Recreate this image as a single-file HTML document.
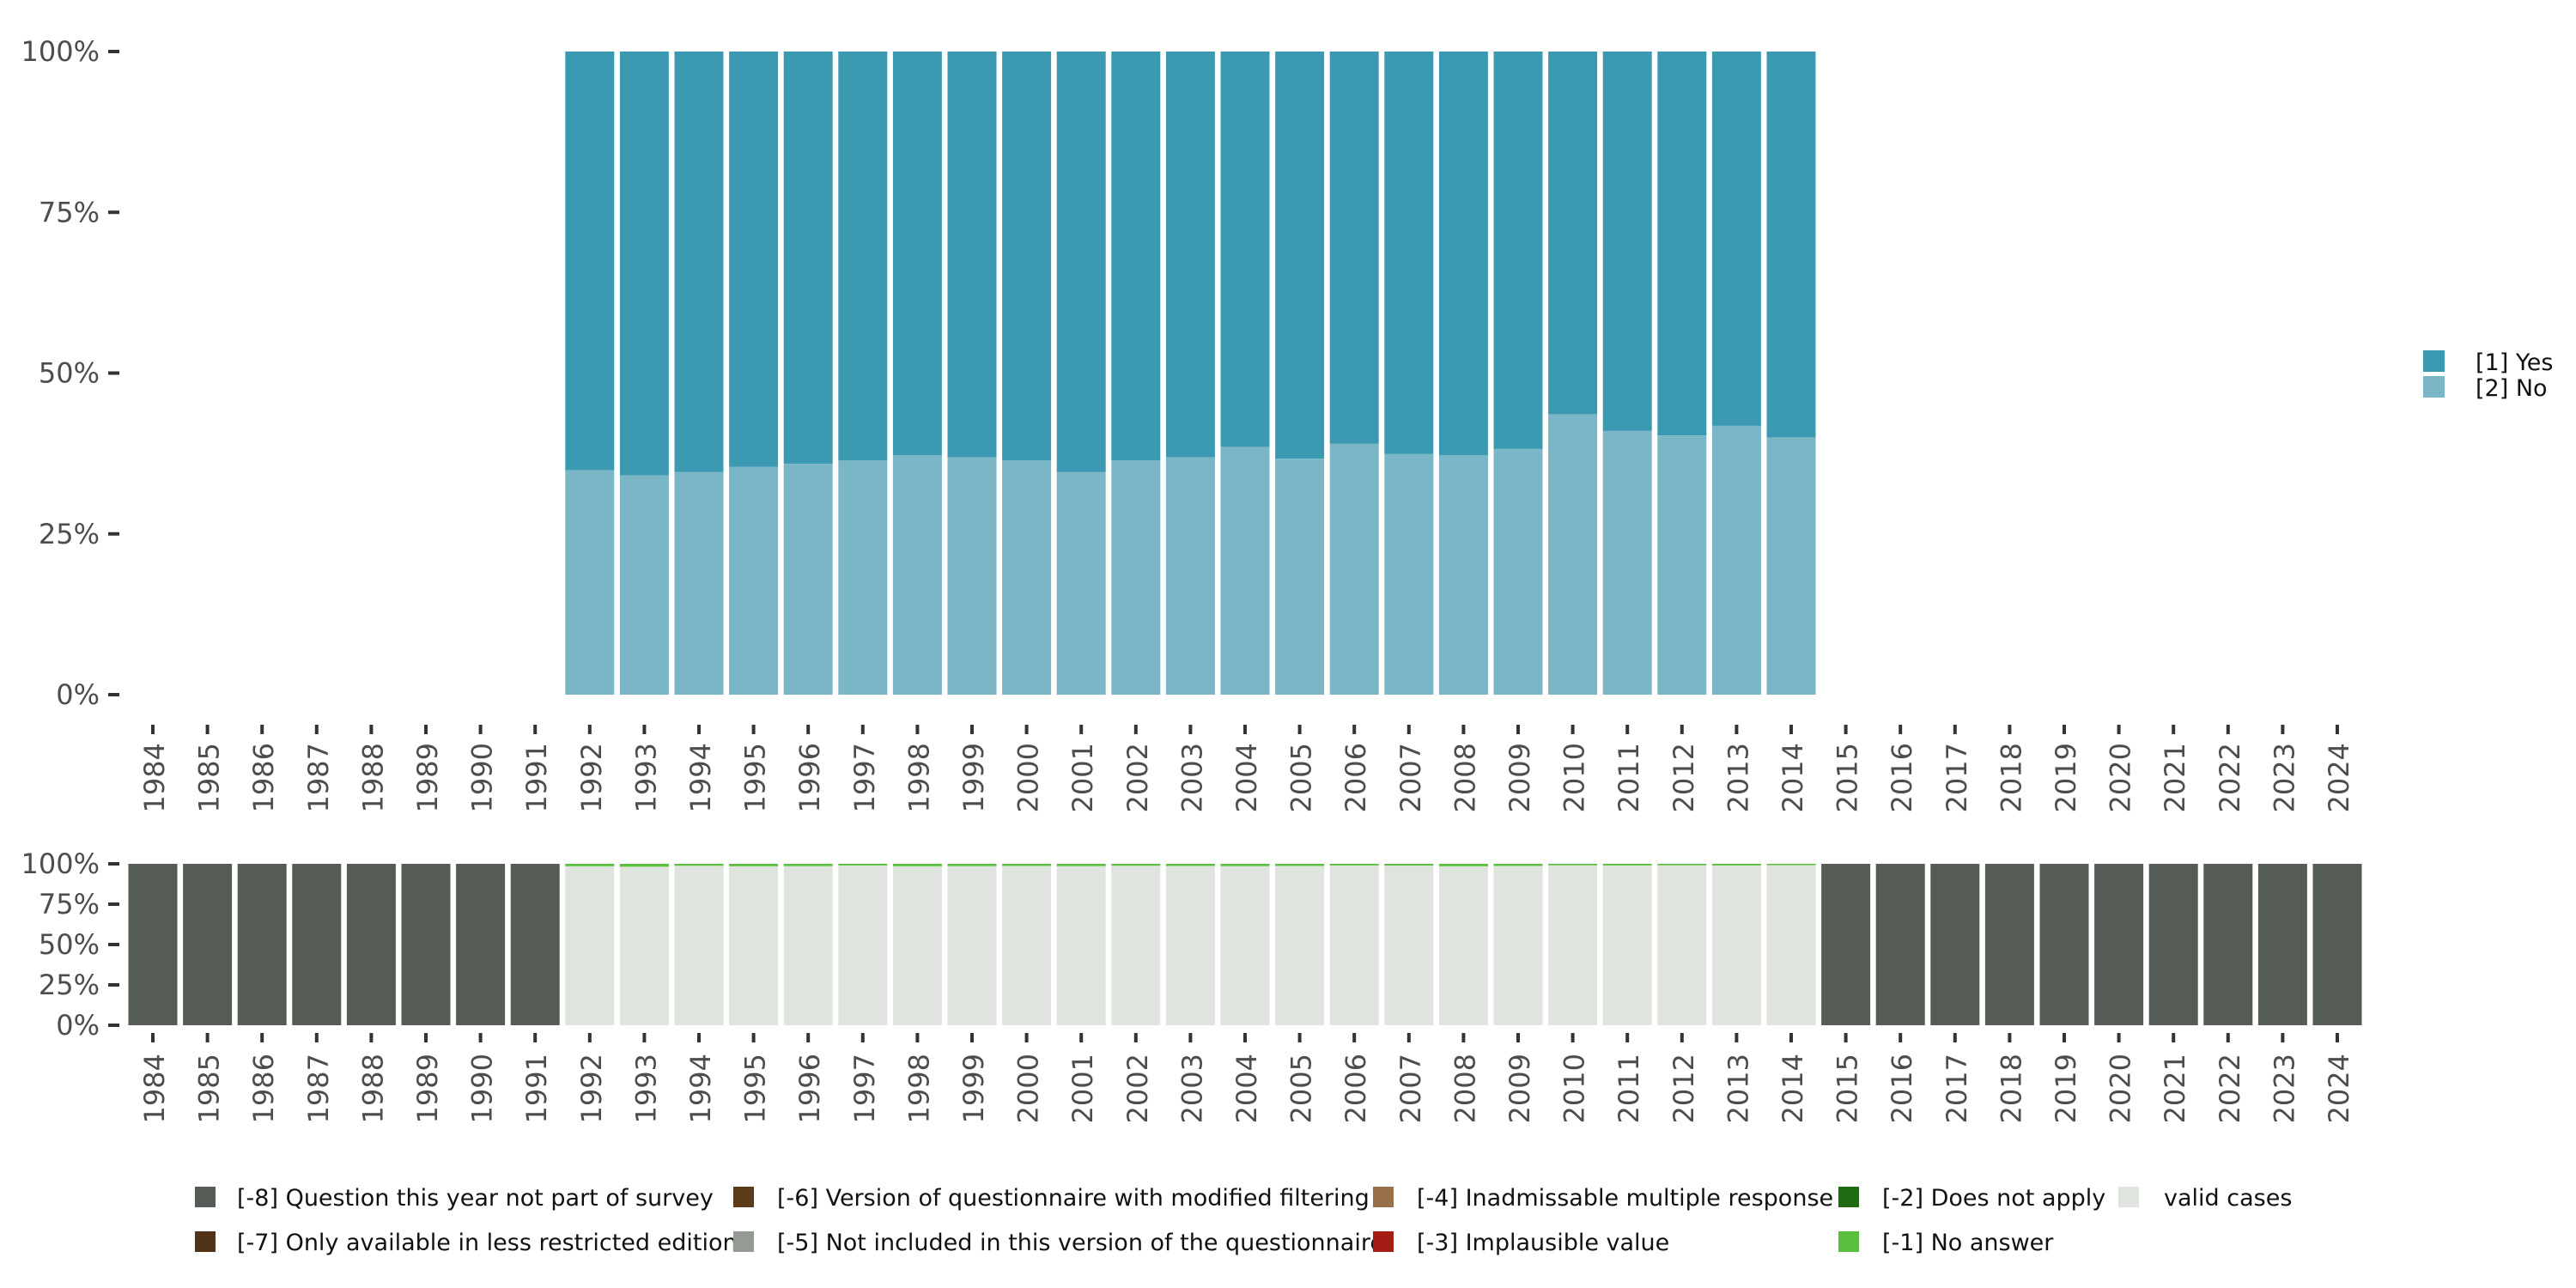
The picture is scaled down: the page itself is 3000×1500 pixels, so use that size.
<!DOCTYPE html>
<html><head><meta charset="utf-8"><style>
html,body{margin:0;padding:0;background:#fff}
svg{display:block;font-family:"DejaVu Sans","Liberation Sans",sans-serif}
</style></head><body>
<svg id="chart" width="3000" height="1500" viewBox="0 0 3000 1500" xmlns="http://www.w3.org/2000/svg">
<g id="topPanel"></g>
<g id="bottomPanel"></g>
<g id="legend-right">
  <rect x="2822" y="408" width="25" height="25" fill="#3c99b2"/>
  <text x="2883" y="431" font-size="27" fill="#111">[1] Yes</text>
  <rect x="2822" y="438" width="25" height="25" fill="#7ab6c5"/>
  <text x="2883" y="461" font-size="27" fill="#111">[2] No</text>
</g>
<g id="legendBottom"></g>
</svg>
<script>
const years = [];
for (let y = 1984; y <= 2024; y++) years.push(y);
const validYears = [1992,1993,1994,1995,1996,1997,1998,1999,2000,2001,2002,2003,2004,2005,2006,2007,2008,2009,2010,2011,2012,2013,2014];
const noPct = [34.9,34.1,34.6,35.4,35.9,36.4,37.2,36.9,36.4,34.6,36.4,36.9,38.5,36.7,39.0,37.4,37.2,38.2,43.6,41.0,40.3,41.8,40.0];
const noAnswerPct = [1.5,1.8,1.2,1.5,1.4,1.0,1.5,1.4,1.3,1.4,1.2,1.3,1.4,1.3,1.0,1.1,1.5,1.3,0.9,1.0,0.9,1.0,0.8];
const yTicks = [0,25,50,75,100];
const yTickLabels = ["0%","25%","50%","75%","100%"];
const legendLabels = ["[-8] Question this year not part of survey","[-7] Only available in less restricted edition","[-6] Version of questionnaire with modified filtering","[-5] Not included in this version of the questionnaire","[-4] Inadmissable multiple response","[-3] Implausible value","[-2] Does not apply","[-1] No answer","valid cases"];
const legendColors = ["#555c56","#4f3218","#5c3a1a","#959a94","#98704a","#a51c15","#216b15","#5abf3f","#e0e4df"];

const NS = "http://www.w3.org/2000/svg";
function mk(tag, attrs, parent){const e=document.createElementNS(NS,tag);for(const k in attrs)e.setAttribute(k,attrs[k]);parent.appendChild(e);return e;}
const X0 = 178, STEP = 63.6, BW = 57;
function xc(year){return X0 + (year-1984)*STEP;}
function yTop(v){return 809 - (809-60)*v/100;}
function yBot(v){return 1194 - (1194-1006)*v/100;}

function axes(g, yf, tickTop, labTop){
  yTicks.forEach((t,i)=>{
    const l = mk('rect',{x:126,y:yf(t)-2,width:13,height:4,fill:'#333'},g);
    
    
    const tx = mk('text',{x:116,y:yf(t)+11,'text-anchor':'end','font-size':32,fill:'#4d4d4d'},g);
    tx.textContent = yTickLabels[i];
    
    
  });
  years.forEach(y=>{
    const x = xc(y);
    const t = mk('rect',{x:x-2,y:tickTop,width:4,height:11,fill:'#333'},g);
    
    
    const tx = mk('text',{x:0,y:0,'text-anchor':'end','font-size':32,fill:'#4d4d4d',transform:`translate(${x+13},${labTop}) rotate(-90)`},g);
    tx.textContent = y;
    
    
  });
}

const topG = document.getElementById('topPanel');
validYears.forEach((y,i)=>{
  const x = xc(y)-BW/2;
  const yes = mk('rect',{x:x,y:yTop(100),width:BW,height:yTop(noPct[i])-yTop(100),fill:'#3c99b2'},topG);
  
  
  const no = mk('rect',{x:x,y:yTop(noPct[i]),width:BW,height:yTop(0)-yTop(noPct[i]),fill:'#7ab6c5'},topG);
  
  
});
axes(topG, yTop, 844, 865);

const botG = document.getElementById('bottomPanel');
years.forEach(y=>{
  const x = xc(y)-BW/2;
  const idx = validYears.indexOf(y);
  if (idx < 0) {
    const r = mk('rect',{x:x,y:yBot(100),width:BW,height:yBot(0)-yBot(100),fill:'#555c56'},botG);
    
    
  } else {
    const na = noAnswerPct[idx];
    const v = mk('rect',{x:x,y:yBot(100-na),width:BW,height:yBot(0)-yBot(100-na),fill:'#e0e4df'},botG);
    
    
    const n = mk('rect',{x:x,y:yBot(100),width:BW,height:yBot(100-na)-yBot(100),fill:'#5abf3f'},botG);
    
    
  }
});
axes(botG, yBot, 1203, 1227);

const lg = document.getElementById('legendBottom');
const cols = [[227,276],[854,905],[1599,1650],[2141,2192],[2467,2520]];
const rows = [1382,1434];
legendLabels.forEach((lab,i)=>{
  const c = cols[Math.floor(i/2)], r = rows[i%2];
  const s = mk('rect',{x:c[0],y:r,width:24,height:24,fill:legendColors[i]},lg);
  
  
  const t = mk('text',{x:c[1],y:r+22,'font-size':27,fill:'#111'},lg);
  t.textContent = lab;
  
  
});
</script>
</body></html>
